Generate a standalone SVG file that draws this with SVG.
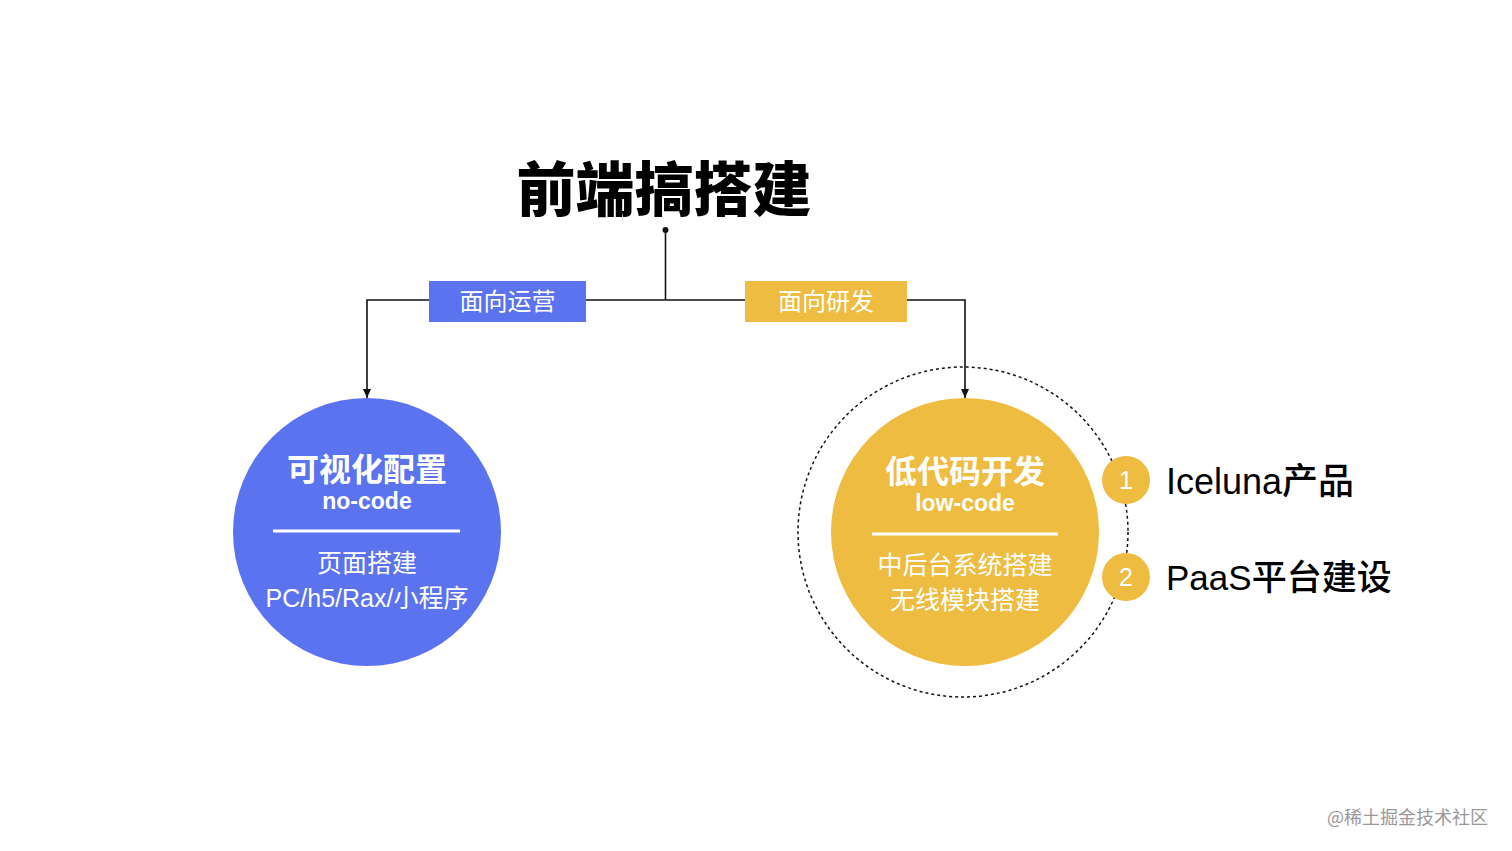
<svg xmlns="http://www.w3.org/2000/svg" width="1512" height="851" viewBox="0 0 1512 851">
<defs>
<marker id="arr" markerWidth="9" markerHeight="8" refX="9" refY="4" orient="auto" markerUnits="userSpaceOnUse" viewBox="0 0 9 8">
<path d="M0,0 L9,4 L0,8 Z" fill="#111"/>
</marker>
</defs>
<style>
.cjk{font-family:"Noto Sans CJK SC","Liberation Sans",sans-serif}
.lat{font-family:"Liberation Sans",Arial,"Noto Sans CJK SC",sans-serif}
.w{fill:#fff}
.c{text-anchor:middle}
.line{stroke:#111;stroke-width:1.6;fill:none}
</style>
<rect width="1512" height="851" fill="#fff"/>
<g id="title">
<text x="664" y="211" class="cjk c" font-size="59" font-weight="900" fill="#000">前端搞搭建</text>
</g>
<g id="connectors">
<circle cx="665.5" cy="230" r="3" fill="#111"/>
<path class="line" d="M665.5 230 V300"/>
<path class="line" d="M665.5 300 H367 V398" marker-end="url(#arr)"/>
<path class="line" d="M665.5 300 H965 V398" marker-end="url(#arr)"/>
</g>
<g id="label-ops">
<rect x="429" y="281" width="157" height="41" fill="#5B73EE"/>
<text x="507.5" y="310" class="cjk c w" font-size="24">面向运营</text>
</g>
<g id="label-dev">
<rect x="745" y="281" width="162" height="41" fill="#EDBC40"/>
<text x="826" y="310" class="cjk c w" font-size="24">面向研发</text>
</g>
<g id="node-nocode">
<circle cx="367" cy="532" r="134" fill="#5B73EE"/>
<text x="367" y="481" class="cjk c w" font-size="32" font-weight="700">可视化配置</text>
<text x="367" y="509" class="lat c w" font-size="23" font-weight="700">no-code</text>
<line x1="273" y1="531" x2="460" y2="531" stroke="#fff" stroke-width="3"/>
<text x="367" y="572" class="cjk c w" font-size="25">页面搭建</text>
<text x="367" y="607" class="lat c w" font-size="25">PC/h5/Rax/<tspan font-family="Noto Sans CJK SC, sans-serif">小程序</tspan></text>
</g>
<g id="node-lowcode">
<circle cx="963" cy="532" r="165" fill="none" stroke="#111" stroke-width="1.5" stroke-dasharray="3 3"/>
<circle cx="965" cy="532" r="134" fill="#EDBC40"/>
<text x="965" y="483" class="cjk c w" font-size="32" font-weight="700">低代码开发</text>
<text x="965" y="511" class="lat c w" font-size="23" font-weight="700">low-code</text>
<line x1="872" y1="534" x2="1058" y2="534" stroke="#fff" stroke-width="3"/>
<text x="965" y="574" class="cjk c w" font-size="25">中后台系统搭建</text>
<text x="965" y="609" class="cjk c w" font-size="25">无线模块搭建</text>
</g>
<g id="item-1">
<circle cx="1126" cy="480" r="24" fill="#EDBC40"/>
<text x="1126" y="489" class="lat c w" font-size="25">1</text>
<text x="1166" y="494" class="lat" font-size="36" fill="#000">Iceluna<tspan font-family="Noto Sans CJK SC, sans-serif" font-weight="500">产品</tspan></text>
</g>
<g id="item-2">
<circle cx="1126" cy="577" r="24" fill="#EDBC40"/>
<text x="1126" y="586" class="lat c w" font-size="25">2</text>
<text x="1166" y="590" class="lat" font-size="35" fill="#000">PaaS<tspan font-family="Noto Sans CJK SC, sans-serif" font-weight="500">平台建设</tspan></text>
</g>
<g id="watermark">
<text x="1488" y="824" text-anchor="end" class="cjk" font-size="18" fill="#999">@稀土掘金技术社区</text>
</g>
</svg>
